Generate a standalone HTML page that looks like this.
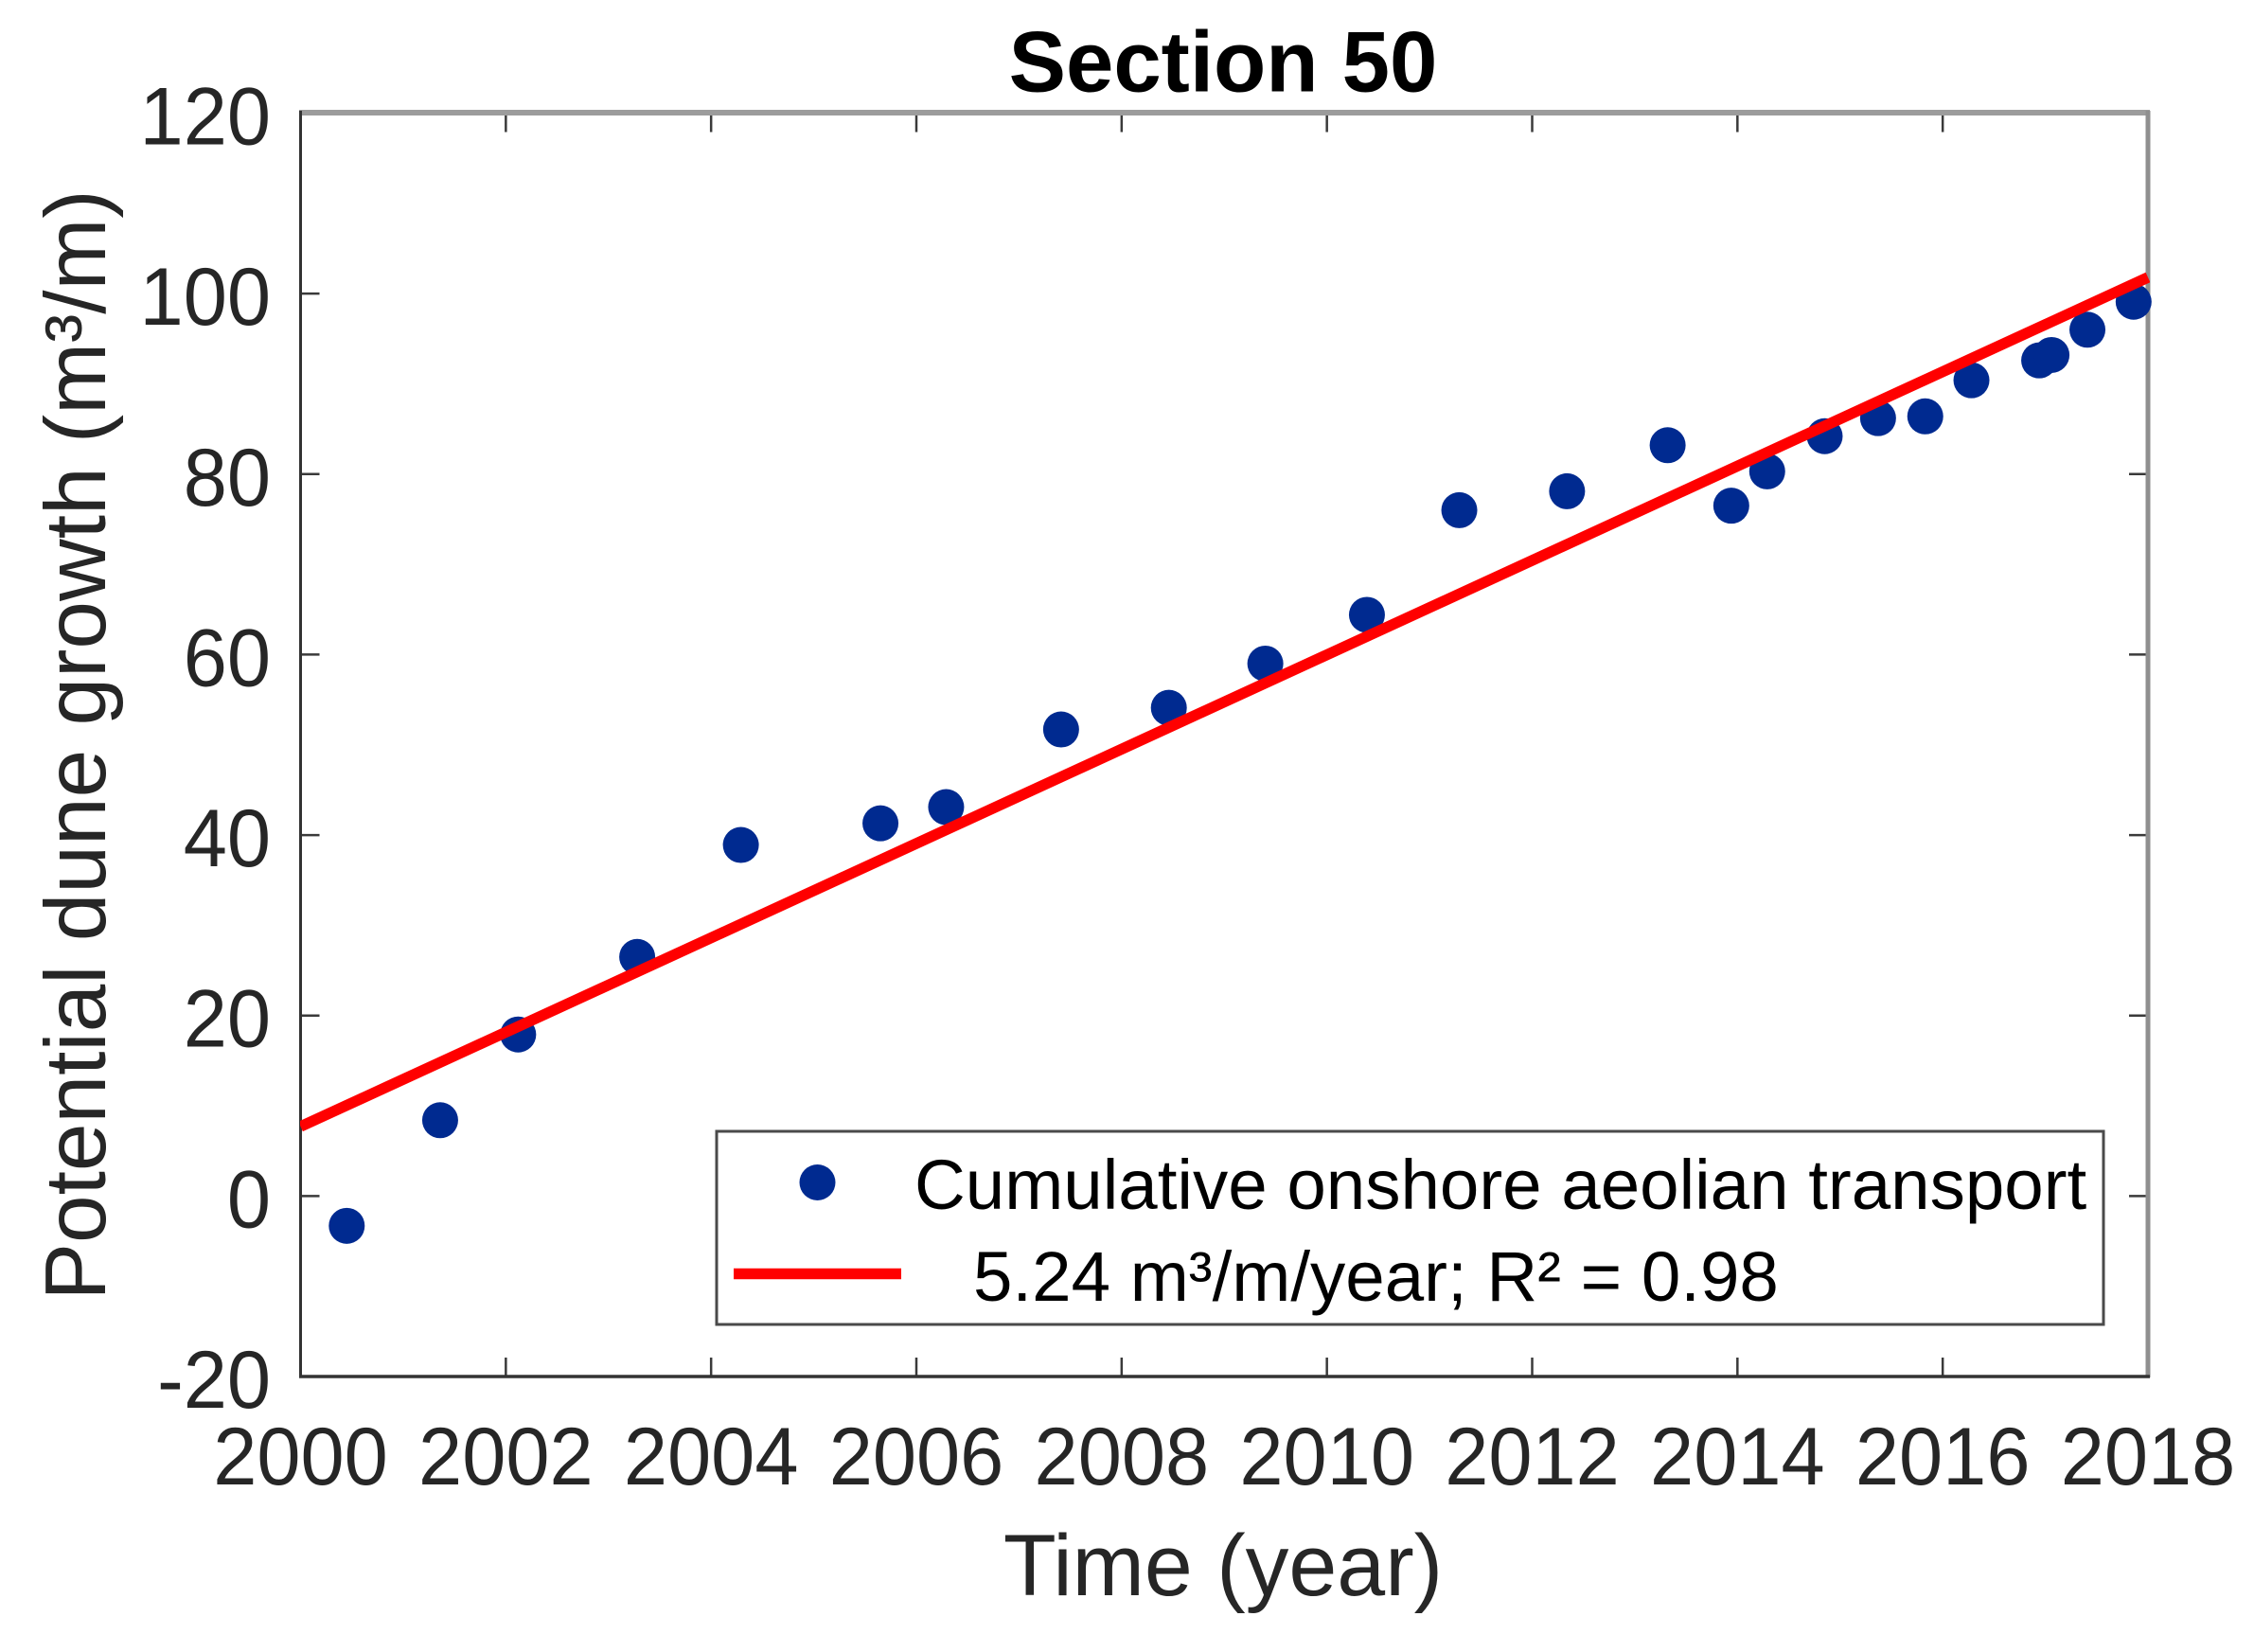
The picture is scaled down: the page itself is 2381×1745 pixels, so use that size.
<!DOCTYPE html>
<html lang="en">
<head>
<meta charset="utf-8">
<title>Section 50</title>
<style>
html,body{margin:0;padding:0;background:#fff;}
svg{display:block;}
text{font-family:"Liberation Sans",sans-serif;}
</style>
</head>
<body>
<svg id="chart" xmlns="http://www.w3.org/2000/svg" width="2381" height="1745" viewBox="0 0 2381 1745">
  <rect x="0" y="0" width="2381" height="1745" fill="#ffffff"/>
  <defs>
    <clipPath id="plot-clip-full"><rect x="317" y="118" width="1954" height="1336"/></clipPath>
  </defs>
  <text x="1292" y="96.5" font-size="90.5" font-weight="bold" text-anchor="middle" fill="#000000">Section 50</text>
  <g id="ticks"></g>
  <g id="tick-labels"></g>
  <line x1="316" y1="119" x2="2271" y2="119" stroke="#9c9c9c" stroke-width="6"/>
  <line x1="2269" y1="117" x2="2269" y2="1455" stroke="#8f8f8f" stroke-width="5"/>
  <line x1="317.5" y1="117" x2="317.5" y2="1455" stroke="#333333" stroke-width="3"/>
  <line x1="316" y1="1454" x2="2271" y2="1454" stroke="#333333" stroke-width="3.5"/>
  <g id="series"></g>
  <text x="1292" y="1685" font-size="91.5" text-anchor="middle" fill="#262626">Time (year)</text>
  <text transform="translate(111 787) rotate(-90)" font-size="91" text-anchor="middle" fill="#262626">Potential dune growth (m³/m)</text>
  <g>
    <rect x="757" y="1195" width="1465" height="204" fill="#ffffff" stroke="#4a4a4a" stroke-width="3"/>
    <circle cx="863.5" cy="1249" r="19" fill="#002a90"/>
    <text x="966" y="1277" font-size="74.5" fill="#000000">Cumulative onshore aeolian transport</text>
    <line x1="775" y1="1345.5" x2="952" y2="1345.5" stroke="#ff0000" stroke-width="11.5"/>
    <text x="1028" y="1374" font-size="74.5" fill="#000000">5.24 m³/m/year; R² = 0.98</text>
  </g>
</svg>
<script>
var years = [2000.45,2001.36,2002.12,2003.28,2004.29,2005.65,2006.29,2007.41,2008.46,2009.40,2010.39,2011.29,2012.34,2013.32,2013.94,2014.29,2014.85,2015.37,2015.83,2016.28,2016.94,2017.06,2017.41,2017.86];
var growth = [-3.3,8.4,17.9,26.5,38.9,41.3,43.1,51.7,54.1,59.0,64.4,76.0,78.1,83.2,76.5,80.3,84.2,86.2,86.4,90.4,92.6,93.2,96.0,99.1];
var trendYears = [2000,2018];
var trendValues = [7.7,101.8];
var xTickValues = [2000,2002,2004,2006,2008,2010,2012,2014,2016,2018];
var yTickValues = [-20,0,20,40,60,80,100,120];

var NS = 'http://www.w3.org/2000/svg';
var PLOT_LEFT = 317.5, PLOT_RIGHT = 2269, PLOT_TOP = 119.5, PLOT_BOTTOM = 1454;
var X_MIN = 2000, X_MAX = 2018, Y_MIN = -20, Y_MAX = 120;

function xScale(v){ return PLOT_LEFT + (v - X_MIN) / (X_MAX - X_MIN) * (PLOT_RIGHT - PLOT_LEFT); }
function yScale(v){ return PLOT_BOTTOM - (v - Y_MIN) / (Y_MAX - Y_MIN) * (PLOT_BOTTOM - PLOT_TOP); }
function make(tag, attrs){
  var el = document.createElementNS(NS, tag);
  for (var k in attrs) el.setAttribute(k, attrs[k]);
  return el;
}

var ticksG = document.getElementById('ticks');
var labelsG = document.getElementById('tick-labels');
var seriesG = document.getElementById('series');
var TICK = 20;
var tickStyle = {stroke:'#3a3a3a','stroke-width':2.5};

xTickValues.forEach(function(v){
  var x = xScale(v);
  var bottom = make('line', {x1:x,y1:PLOT_BOTTOM,x2:x,y2:PLOT_BOTTOM-TICK,stroke:tickStyle.stroke,'stroke-width':tickStyle['stroke-width']});
  
  
  ticksG.appendChild(bottom);
  var top = make('line', {x1:x,y1:PLOT_TOP,x2:x,y2:PLOT_TOP+TICK,stroke:tickStyle.stroke,'stroke-width':tickStyle['stroke-width']});
  
  
  ticksG.appendChild(top);
  var label = make('text', {transform:'translate(' + x + ' 1568) scale(1 1.04)','font-size':83,'text-anchor':'middle',fill:'#262626'});
  
  
  label.textContent = String(v);
  labelsG.appendChild(label);
});

yTickValues.forEach(function(v){
  var y = yScale(v);
  var left = make('line', {x1:PLOT_LEFT,y1:y,x2:PLOT_LEFT+TICK,y2:y,stroke:tickStyle.stroke,'stroke-width':tickStyle['stroke-width']});
  
  
  ticksG.appendChild(left);
  var right = make('line', {x1:PLOT_RIGHT,y1:y,x2:PLOT_RIGHT-TICK,y2:y,stroke:tickStyle.stroke,'stroke-width':tickStyle['stroke-width']});
  
  
  ticksG.appendChild(right);
  var label = make('text', {transform:'translate(286 ' + (y + 33) + ') scale(1 1.04)','font-size':83,'text-anchor':'end',fill:'#262626'});
  
  
  label.textContent = String(v);
  labelsG.appendChild(label);
});

years.forEach(function(yr, i){
  var c = make('circle', {cx:xScale(yr),cy:yScale(growth[i]),r:19,fill:'#002a90'});
  
  
  seriesG.appendChild(c);
});

var trend = make('line', {
  x1:xScale(trendYears[0]), y1:yScale(trendValues[0]),
  x2:xScale(trendYears[1]), y2:yScale(trendValues[1]),
  stroke:'#ff0000','stroke-width':11.5,'clip-path':'url(#plot-clip-full)'
});


seriesG.appendChild(trend);
</script>
</body>
</html>
